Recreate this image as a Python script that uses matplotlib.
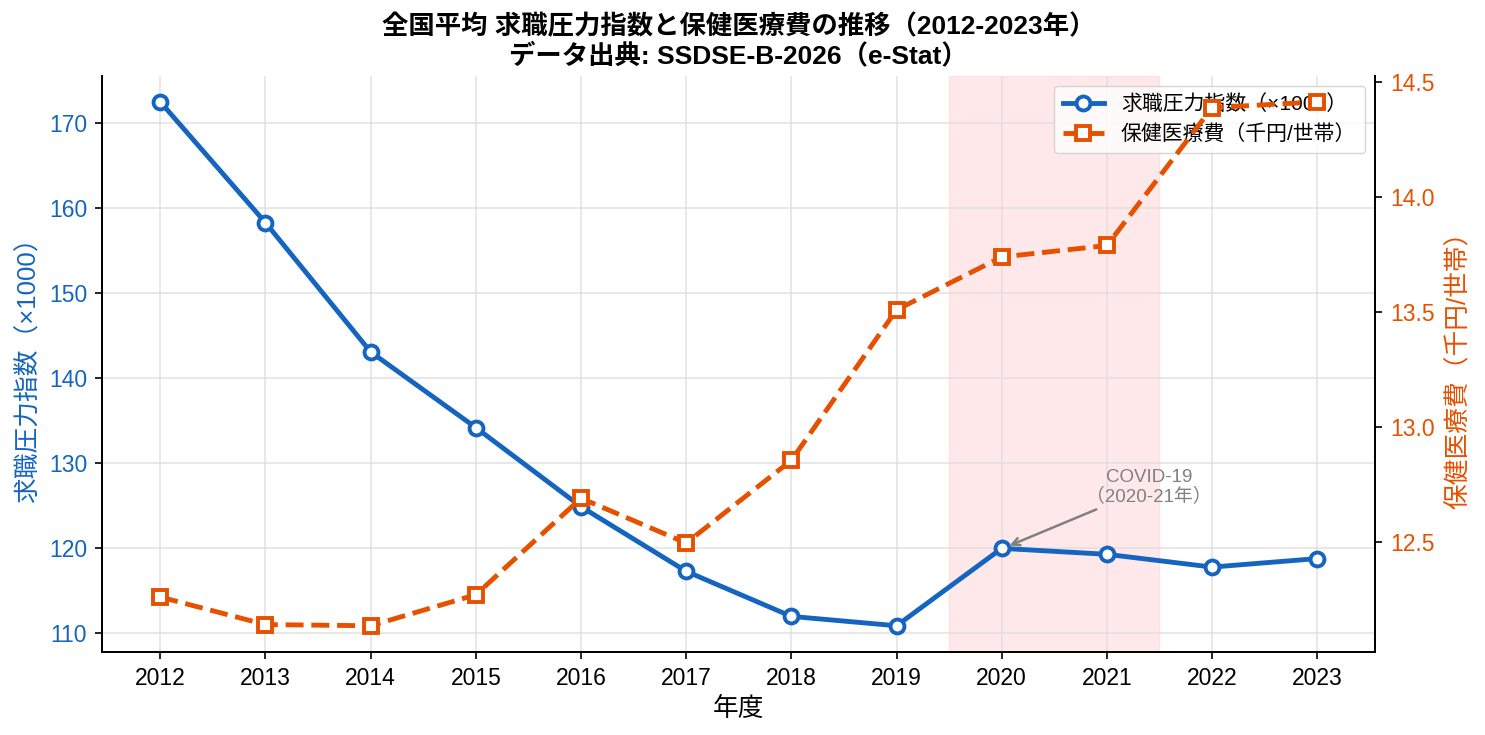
import matplotlib
matplotlib.use("Agg")
import matplotlib.pyplot as plt

plt.rcParams['font.family'] = ['Liberation Sans', 'Noto Sans CJK JP', 'DejaVu Sans']

years = [2012, 2013, 2014, 2015, 2016, 2017, 2018, 2019, 2020, 2021, 2022, 2023]
pressure = [172.5, 158.3, 143.1, 134.2, 124.9, 117.3, 112.0, 110.9, 120.0, 119.3, 117.8, 118.8]
health = [12.26, 12.14, 12.135, 12.27, 12.69, 12.495, 12.855, 13.51, 13.74, 13.79, 14.39, 14.415]

blue = '#1565C0'
orange = '#E65100'

fig, ax1 = plt.subplots(figsize=(14.85, 7.35), dpi=100)
ax2 = ax1.twinx()

ax1.axvspan(2019.5, 2021.5, color='#ffcdd2', alpha=0.45, zorder=0)

l1, = ax1.plot(years, pressure, color=blue, lw=3.5, marker='o', ms=10,
               mfc='white', mew=2.8, label='求職圧力指数（×1000）', zorder=3)
l2, = ax2.plot(years, health, color=orange, lw=3.5, ls='--', marker='s', ms=10,
               mfc='white', mew=2.8, label='保健医療費（千円/世帯）', zorder=3)

ax1.set_xticks(years)
ax1.tick_params(axis='x', labelsize=16.5, length=5, width=1.2, pad=6)
ax1.tick_params(axis='y', labelcolor=blue, labelsize=16.5, length=5, width=1.2, pad=6)
ax2.tick_params(axis='y', labelcolor=orange, labelsize=16.5, length=5, width=1.2, pad=6)
ax1.set_xlabel('年度', fontsize=18.5, labelpad=5)
ax1.set_ylabel('求職圧力指数（×1000）', color=blue, fontsize=18.5, labelpad=6)
ax2.set_ylabel('保健医療費（千円/世帯）', color=orange, fontsize=18.5, labelpad=8)
ax1.grid(True, color='#dddddd', alpha=0.8, lw=1.2)

for ax in (ax1, ax2):
    ax.spines['top'].set_visible(False)
    for s in ('left', 'right', 'bottom'):
        ax.spines[s].set_linewidth(1.3)

ax1.annotate('COVID-19\n（2020-21年）', xy=(2020.05, 120.2), xytext=(2021.4, 125.5),
             fontsize=13.5, color='gray', ha='center', linespacing=1.1,
             arrowprops=dict(arrowstyle='->', color='gray', lw=1.8))

ax1.legend(handles=[l1, l2], loc='upper right', fontsize=15)

ax1.set_title('全国平均 求職圧力指数と保健医療費の推移（2012-2023年）\nデータ出典: SSDSE-B-2026（e-Stat）',
              fontsize=19, fontweight='bold', linespacing=1.15, pad=9)

fig.subplots_adjust(left=0.069, right=0.926, bottom=0.113, top=0.897)
fig.savefig('out.png', dpi=100)
